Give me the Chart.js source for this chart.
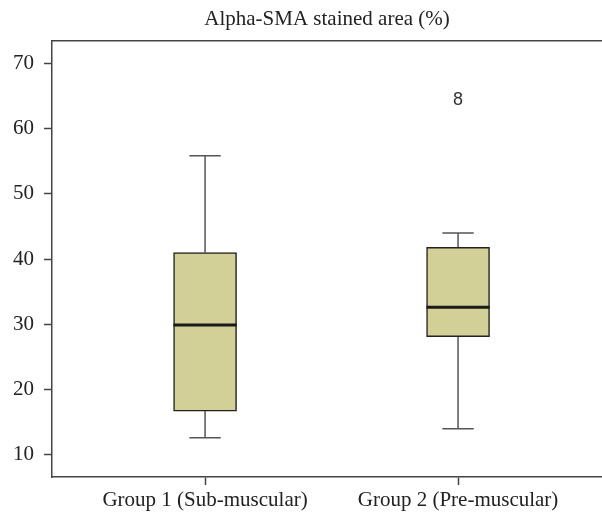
<!DOCTYPE html>
<html>
<head>
<meta charset="utf-8">
<script src="https://cdn.jsdelivr.net/npm/chart.js@4.4.0/dist/chart.umd.min.js"></script>
<style>
  html, body { margin: 0; padding: 0; background: #fff; }
  #wrap { width: 602px; height: 517px; }
</style>
</head>
<body>
<div id="wrap"><canvas id="chart"></canvas></div>
<script>
// box plot values
const groups = ['Group 1 (Sub-muscular)', 'Group 2 (Pre-muscular)'];
const whiskerLow = [12.6, 14.0];
const q1 = [16.7, 28.1];
const median = [29.9, 32.6];
const q3 = [41.0, 41.8];
const whiskerHigh = [55.8, 44.0];
const outlierGroup = [2];
const outlierValue = [64.4];
const outlierCase = ['8'];
const yTicks = [10, 20, 30, 40, 50, 60, 70];

const serif = '"Liberation Serif", "Times New Roman", serif';
const boxHalf = 0.125;
const capHalf = 0.062;

// whisker stems + caps, broken up with null points
const whiskerPts = [];
const medianPts = [];
groups.forEach((g, i) => {
    const x = i + 1;
    whiskerPts.push({ x: x, y: q3[i] }, { x: x, y: whiskerHigh[i] }, { x: x, y: null });
    whiskerPts.push({ x: x - capHalf, y: whiskerHigh[i] }, { x: x + capHalf, y: whiskerHigh[i] }, { x: x, y: null });
    whiskerPts.push({ x: x, y: q1[i] }, { x: x, y: whiskerLow[i] }, { x: x, y: null });
    whiskerPts.push({ x: x - capHalf, y: whiskerLow[i] }, { x: x + capHalf, y: whiskerLow[i] }, { x: x, y: null });
    medianPts.push({ x: x - boxHalf, y: median[i] }, { x: x + boxHalf, y: median[i] }, { x: x, y: null });
});

// draws the case number at each outlier point
const outlierLabels = {
    id: 'outlierLabels',
    afterDatasetsDraw(chart) {
        const meta = chart.getDatasetMeta(3);
        const ctx = chart.ctx;
        ctx.save();
        ctx.font = '18px "Liberation Sans", Arial, sans-serif';
        ctx.fillStyle = '#333';
        ctx.textAlign = 'center';
        ctx.textBaseline = 'middle';
        meta.data.forEach((pt, i) => ctx.fillText(outlierCase[i], pt.x, pt.y));
        ctx.restore();
    }
};

new Chart(document.getElementById('chart'), {
    type: 'bar',
    data: {
        datasets: [
            {
                type: 'line',
                data: whiskerPts,
                borderColor: '#555',
                borderWidth: 1.5,
                pointRadius: 0,
                spanGaps: false,
                order: 3
            },
            {
                type: 'bar',
                data: groups.map((g, i) => ({ x: i + 1, y: [q1[i], q3[i]] })),
                backgroundColor: '#d2cf97',
                borderColor: '#222',
                borderWidth: 1.5,
                borderSkipped: false,
                barThickness: 63,
                order: 2
            },
            {
                type: 'line',
                data: medianPts,
                borderColor: '#1a1a1a',
                borderWidth: 3,
                pointRadius: 0,
                spanGaps: false,
                order: 1
            },
            {
                type: 'scatter',
                data: outlierGroup.map((g, i) => ({ x: g, y: outlierValue[i] })),
                pointRadius: 0,
                order: 0
            }
        ]
    },
    options: {
        responsive: true,
        maintainAspectRatio: false,
        animation: false,
        layout: { padding: 0 },
        plugins: {
            legend: { display: false },
            tooltip: { enabled: false },
            title: {
                display: true,
                fullSize: false,
                text: 'Alpha-SMA stained area (%)',
                color: '#222',
                font: { family: serif, size: 21, weight: 'normal' },
                padding: { top: 7, bottom: 8.8 }
            }
        },
        scales: {
            x: {
                type: 'linear',
                position: 'bottom',
                min: 0.395,
                max: 2.569,
                offset: false,
                afterBuildTicks: (axis) => { axis.ticks = groups.map((g, i) => ({ value: i + 1 })); },
                afterFit: (axis) => { axis.height = 40; },
                ticks: {
                    color: '#222',
                    font: { family: serif, size: 21 },
                    padding: 3,
                    maxRotation: 0,
                    callback: (v) => groups[v - 1]
                },
                grid: { offset: false, drawOnChartArea: false, drawTicks: true, tickLength: 8, tickColor: '#444', tickWidth: 1.5 },
                border: { color: '#444', width: 1.5 }
            },
            x2: {
                type: 'linear',
                position: 'top',
                min: 0.395,
                max: 2.569,
                afterFit: (axis) => { axis.height = 0; },
                ticks: { display: false },
                grid: { display: false, drawTicks: false },
                border: { color: '#444', width: 1.5 }
            },
            y: {
                type: 'linear',
                min: 6.6,
                max: 73.4,
                beginAtZero: false,
                afterBuildTicks: (axis) => { axis.ticks = yTicks.map(v => ({ value: v })); },
                afterFit: (axis) => { axis.width = 52; },
                ticks: {
                    color: '#222',
                    font: { family: serif, size: 21 },
                    padding: 10
                },
                grid: { drawOnChartArea: false, drawTicks: true, tickLength: 8, tickColor: '#444', tickWidth: 1.5 },
                border: { color: '#444', width: 1.5 }
            }
        }
    },
    plugins: [outlierLabels]
});
</script>
</body>
</html>
